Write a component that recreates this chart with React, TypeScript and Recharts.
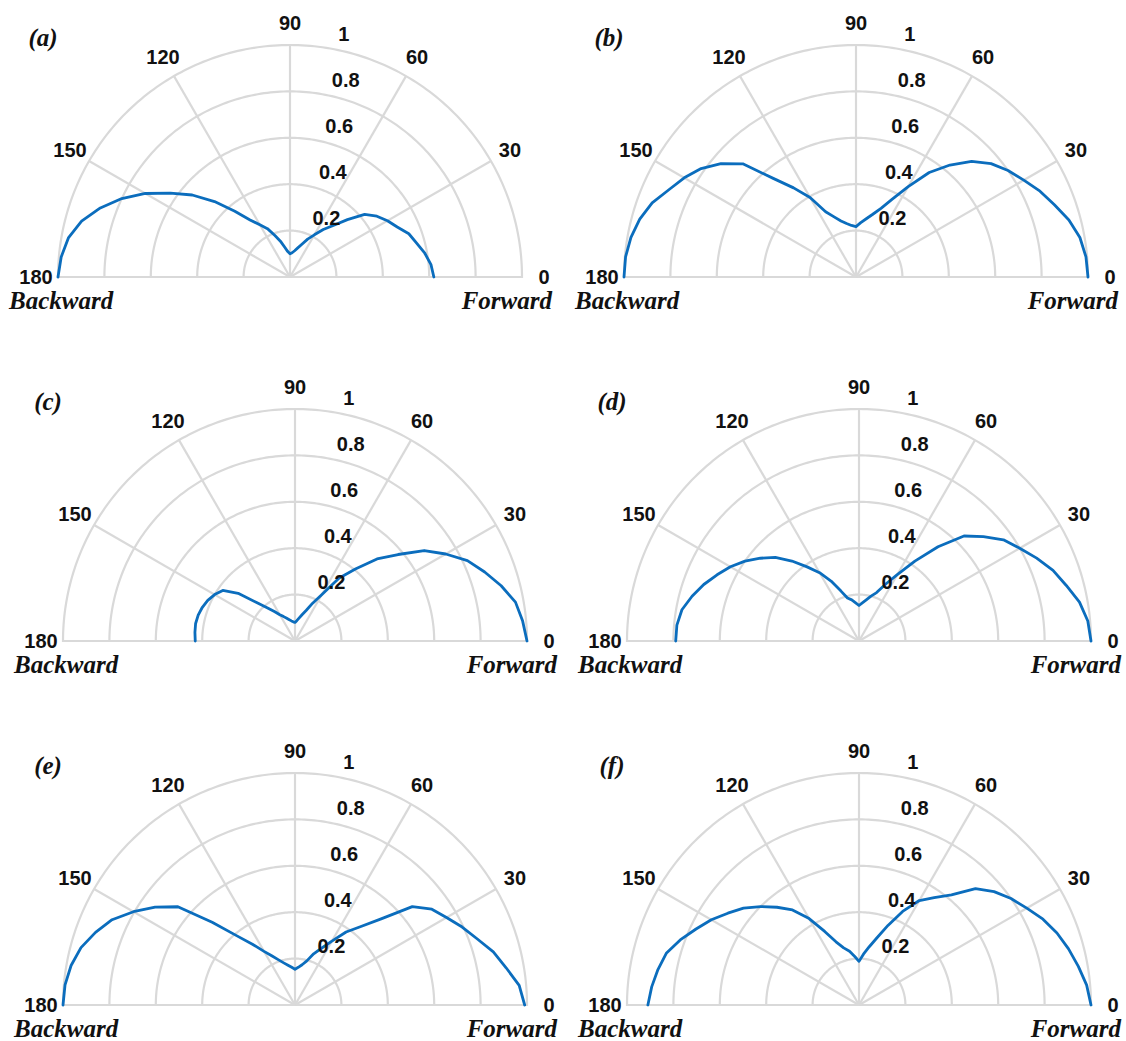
import { PolarAngleAxis, PolarGrid, PolarRadiusAxis, Radar, RadarChart } from "recharts";

// Scattering angle in degrees (0 = forward, 180 = backward)
const angles = [
  0, 5, 10, 15, 20, 25, 30, 35, 40, 45, 50, 55, 60, 65, 70, 75, 80, 85, 90,
  95, 100, 105, 110, 115, 120, 125, 130, 135, 140, 145, 150, 155, 160, 165, 170, 175, 180,
];

// Normalised intensity for each case, one value per angle above
const caseA = [
  0.62, 0.61, 0.59, 0.565, 0.545, 0.51, 0.485, 0.457, 0.42, 0.35, 0.29, 0.25, 0.21, 0.18, 0.15, 0.13, 0.115, 0.105, 0.1,
  0.11, 0.13, 0.16, 0.19, 0.23, 0.26, 0.3, 0.37, 0.46, 0.55, 0.63, 0.72, 0.8, 0.87, 0.93, 0.97, 0.99, 1.0,
];
const caseB = [
  1.0, 0.995, 0.98, 0.95, 0.91, 0.875, 0.835, 0.8, 0.76, 0.705, 0.63, 0.55, 0.45, 0.37, 0.315, 0.28, 0.255, 0.235, 0.217,
  0.223, 0.234, 0.25, 0.276, 0.31, 0.396, 0.469, 0.555, 0.69, 0.76, 0.815, 0.855, 0.89, 0.935, 0.965, 0.985, 0.997, 1.0,
];
const caseC = [
  1.0, 0.985, 0.965, 0.92, 0.87, 0.82, 0.75, 0.68, 0.58, 0.5, 0.405, 0.33, 0.23, 0.18, 0.14, 0.117, 0.1, 0.088, 0.08,
  0.083, 0.088, 0.095, 0.104, 0.116, 0.131, 0.155, 0.187, 0.234, 0.32, 0.38, 0.4, 0.415, 0.425, 0.432, 0.435, 0.433, 0.43,
];
const caseD = [
  1.0, 0.99, 0.965, 0.925, 0.89, 0.845, 0.8, 0.76, 0.7, 0.64, 0.53, 0.42, 0.33, 0.27, 0.222, 0.2, 0.18, 0.165, 0.153,
  0.165, 0.18, 0.192, 0.23, 0.285, 0.34, 0.39, 0.45, 0.51, 0.555, 0.6, 0.64, 0.675, 0.712, 0.745, 0.775, 0.788, 0.79,
];
const caseE = [
  0.99, 0.97, 0.924, 0.885, 0.835, 0.795, 0.754, 0.72, 0.66, 0.525, 0.442, 0.384, 0.318, 0.27, 0.235, 0.197, 0.176, 0.163, 0.154,
  0.163, 0.174, 0.188, 0.207, 0.233, 0.267, 0.32, 0.389, 0.505, 0.659, 0.736, 0.804, 0.87, 0.915, 0.955, 0.98, 0.995, 1.0,
];
const caseF = [
  1.0, 0.985, 0.96, 0.935, 0.908, 0.875, 0.835, 0.8, 0.76, 0.71, 0.62, 0.565, 0.52, 0.445, 0.365, 0.3, 0.255, 0.22, 0.188,
  0.21, 0.235, 0.255, 0.29, 0.35, 0.43, 0.5, 0.55, 0.6, 0.65, 0.69, 0.735, 0.775, 0.82, 0.86, 0.88, 0.897, 0.91,
];

const panelNames = ["(a)", "(b)", "(c)", "(d)", "(e)", "(f)"];
const panelValues = [caseA, caseB, caseC, caseD, caseE, caseF];

const angleTicks = [0, 30, 60, 90, 120, 150, 180];
const radiusTicks = [0.2, 0.4, 0.6, 0.8, 1];

// one-degree steps so the polygon rings read as semicircles
const ringAngles = Array.from({ length: 181 }, (_, i) => i);

// pole position of each panel on the page
const panelCenters = [
  [290, 277],
  [856, 277],
  [295, 641],
  [859, 641],
  [295, 1005],
  [859, 1005],
];

const CX = 290;
const CY = 277;
const R = 232;
const W = 566;
const H = 320;

const GRID = "#d9d9d9";
const CURVE = "#0b6dbd";
const INK = "#111";
const sansBold = { fontFamily: "'Liberation Sans', Arial, sans-serif", fontWeight: 700, fontSize: 20 };
const serifBoldItalic = {
  fontFamily: "'Liberation Serif', 'Times New Roman', serif",
  fontWeight: 700,
  fontStyle: "italic",
  fontSize: 25,
};

function AngleTick(props: any) {
  const { x, y, payload } = props;
  return (
    <text x={x} y={y} textAnchor="middle" dominantBaseline="central" fill={INK} style={sansBold}>
      {payload.value}
    </text>
  );
}

function RadiusTick(props: any) {
  const { x, y, payload } = props;
  return (
    <text x={x + 16} y={y - 13} textAnchor="start" dominantBaseline="central" fill={INK} style={sansBold}>
      {payload.value}
    </text>
  );
}

// open polyline instead of the closed radar polygon
function OpenCurve(props: any) {
  const pts = (props.points || []) as { x: number; y: number }[];
  const d = pts.map((p, i) => `${i === 0 ? "M" : "L"}${p.x},${p.y}`).join(" ");
  return <path d={d} fill="none" stroke={CURVE} strokeWidth={2.8} strokeLinejoin="round" strokeLinecap="round" />;
}

function PolarPanel({ name, values, left, top }: { name: string; values: number[]; left: number; top: number }) {
  const rows = angles.map((angle, i) => ({ angle, value: values[i] }));
  return (
    <div style={{ position: "absolute", left, top, width: W, height: H }}>
      <RadarChart
        width={W}
        height={H}
        data={rows}
        cx={CX}
        cy={CY}
        innerRadius={0}
        outerRadius={R}
        startAngle={0}
        endAngle={180}
        margin={{ top: 0, right: 0, bottom: 0, left: 0 }}
      >
        <PolarGrid gridType="polygon" polarAngles={ringAngles} radialLines={false} stroke={GRID} strokeWidth={2.2} />
        <PolarGrid gridType="polygon" polarRadius={[0]} stroke={GRID} strokeWidth={2.2} />
        <PolarAngleAxis
          dataKey="angle"
          type="number"
          domain={[0, 180]}
          ticks={angleTicks}
          tickSize={22}
          axisLine={false}
          tickLine={false}
          tick={AngleTick}
        />
        <PolarRadiusAxis
          angle={82}
          type="number"
          domain={[0, 1]}
          ticks={radiusTicks}
          axisLine={false}
          tickLine={false}
          tick={RadiusTick}
        />
        <Radar dataKey="value" stroke={CURVE} fill="none" isAnimationActive={false} shape={OpenCurve} />
      </RadarChart>
      <svg width={W} height={H} style={{ position: "absolute", left: 0, top: 0, pointerEvents: "none" }}>
        <text x={CX - 247} y={CY - 240} textAnchor="middle" dominantBaseline="central" fill={INK} style={serifBoldItalic}>
          {name}
        </text>
        <text x={CX - 281} y={CY + 23} textAnchor="start" dominantBaseline="central" fill={INK} style={serifBoldItalic}>
          Backward
        </text>
        <text x={CX + 262} y={CY + 23} textAnchor="end" dominantBaseline="central" fill={INK} style={serifBoldItalic}>
          Forward
        </text>
      </svg>
    </div>
  );
}

export default function App() {
  return (
    <div style={{ position: "absolute", left: 0, top: 0, width: 1126, height: 1041, background: "#fff", overflow: "hidden" }}>
      {panelNames.map((name, i) => (
        <PolarPanel
          key={name}
          name={name}
          values={panelValues[i]}
          left={panelCenters[i][0] - CX}
          top={panelCenters[i][1] - CY}
        />
      ))}
    </div>
  );
}
